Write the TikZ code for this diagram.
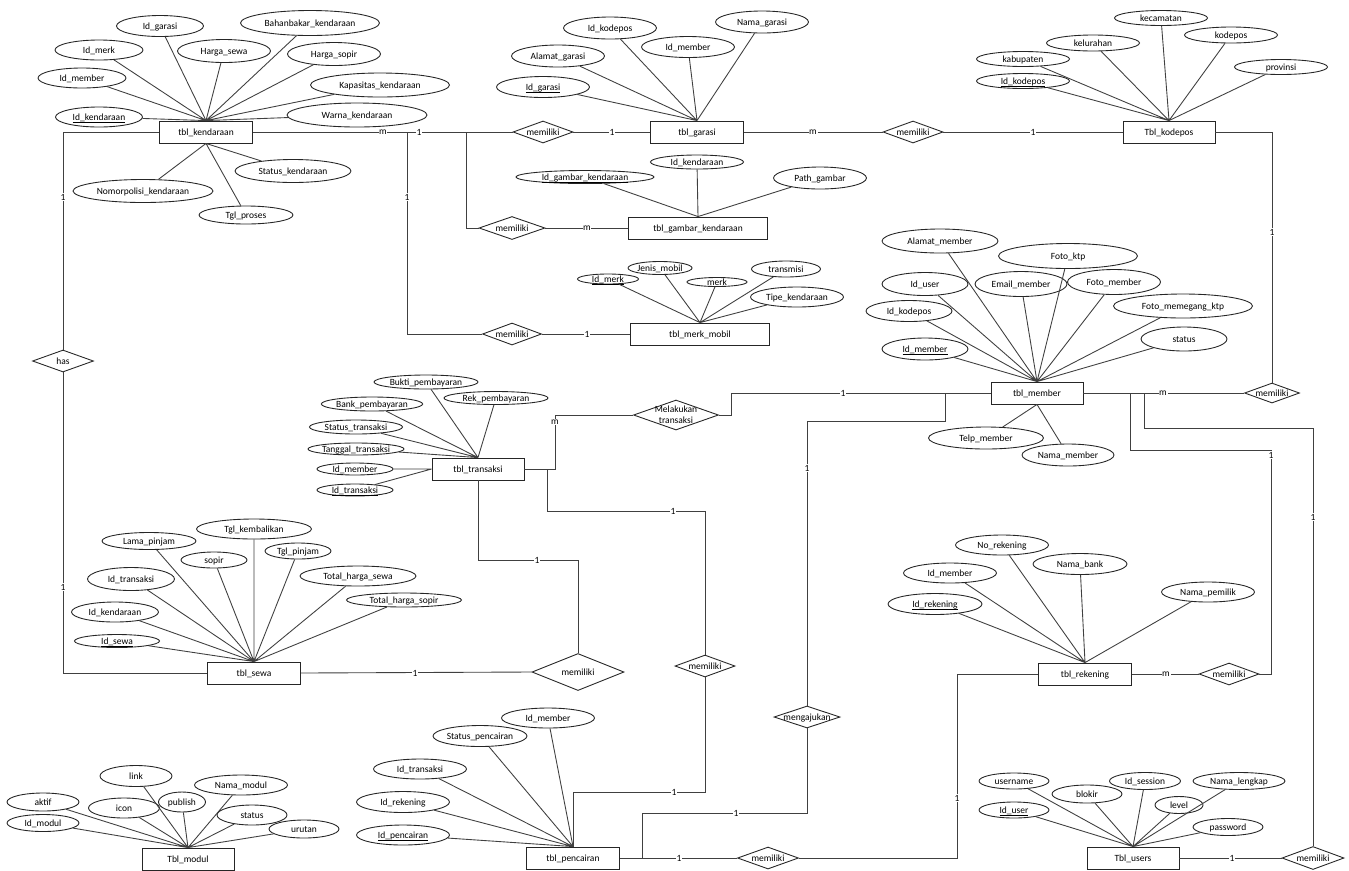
\documentclass[tikz,border=0pt]{standalone}
\usepackage{fontspec}
\setmainfont{Carlito}
\usetikzlibrary{shapes.geometric}
\newcommand{\erfont}{\fontsize{5.4pt}{6.4pt}\selectfont}
\newcommand{\pk}[1]{\underline{\smash{#1}}}

\begin{document}
\begin{tikzpicture}[x=0.02cm, y=-0.02cm,
    ent/.style={draw=black!85, line width=0.5pt, minimum width=1.86cm, minimum height=0.44cm,
                inner sep=0pt, text height=3.6pt, text depth=0pt, font=\erfont},
    att/.style={draw=black!85, line width=0.5pt, ellipse, minimum width=1.86cm, minimum height=0.42cm,
                inner sep=0pt, text height=3.6pt, text depth=0pt, font=\erfont},
    rel/.style={draw=black!85, line width=0.5pt, diamond, aspect=2.7, minimum width=1.2cm,
                minimum height=0.44cm, inner sep=0pt, text height=3.6pt, text depth=0pt, font=\erfont},
    card/.style={fill=white, inner sep=0.4pt, font=\erfont},
    ln/.style={black!75, line width=0.5pt}]
    \path[fill=white] (0,0) rectangle (1349,870);
    \useasboundingbox (0,0) rectangle (1349,870);

    \node[ent] (kend) at (206,132) {tbl\_kendaraan};
    \node[att, minimum width=1.74cm, minimum height=0.4cm] (k1) at (99,117) {\pk{Id\_kendaraan}};
    \node[att, minimum width=1.76cm, minimum height=0.4cm] (k2) at (82,78) {Id\_member};
    \node[att, minimum width=1.76cm, minimum height=0.4cm] (k3) at (99,50) {Id\_merk};
    \node[att, minimum width=1.74cm] (k4) at (160,26) {Id\_garasi};
    \node[att, minimum height=0.46cm] (k5) at (224,51) {Harga\_sewa};
    \node[att, minimum width=2.78cm, minimum height=0.5cm] (k6) at (310,23) {Bahanbakar\_kendaraan};
    \node[att, minimum height=0.46cm] (k7) at (334,54) {Harga\_sopir};
    \node[att, minimum width=2.78cm, minimum height=0.48cm] (k8) at (380,85) {Kapasitas\_kendaraan};
    \node[att, minimum width=2.8cm, minimum height=0.48cm] (k9) at (357,115) {Warna\_kendaraan};
    \node[att, minimum width=2.32cm, minimum height=0.46cm] (k10) at (293,171) {Status\_kendaraan};
    \node[att, minimum width=2.8cm, minimum height=0.46cm] (k11) at (143,191) {Nomorpolisi\_kendaraan};
    \node[att, minimum width=1.88cm, minimum height=0.36cm] (k12) at (246,215) {Tgl\_proses};

    \node[ent] (gar) at (697,132) {tbl\_garasi};
    \node[att] (g1) at (543,87) {\pk{Id\_garasi}};
    \node[att, minimum height=0.44cm] (g2) at (558,56) {Alamat\_garasi};
    \node[att, minimum height=0.44cm] (g3) at (610,28) {Id\_kodepos};
    \node[att] (g4) at (688,47) {Id\_member};
    \node[att, minimum height=0.44cm] (g5) at (762,22) {Nama\_garasi};

    \node[ent, minimum width=2.78cm] (gbk) at (698,228) {tbl\_gambar\_kendaraan};
    \node[att, minimum width=2.76cm, minimum height=0.26cm] (b1) at (585,177) {\pk{Id\_gambar\_kendaraan}};
    \node[att, minimum height=0.28cm] (b2) at (697,162) {Id\_kendaraan};
    \node[att, minimum height=0.44cm] (b3) at (820,178) {Path\_gambar};

    \node[ent, minimum width=2.78cm] (merk) at (700,334) {tbl\_merk\_mobil};
    \node[att, minimum width=1.22cm, minimum height=0.2cm] (m1) at (608,279) {\pk{Id\_merk}};
    \node[att, minimum width=1.22cm, minimum height=0.26cm] (m2) at (660,268) {Jenis\_mobil};
    \node[att, minimum width=1.2cm, minimum height=0.18cm] (m3) at (717,282) {merk};
    \node[att, minimum width=1.38cm, minimum height=0.32cm] (m4) at (786,269) {transmisi};
    \node[att, minimum height=0.4cm] (m5) at (797,297) {Tipe\_kendaraan};

    \node[ent, minimum width=1.84cm] (kdp) at (1169,132) {Tbl\_kodepos};
    \node[att, minimum height=0.3cm] (p1) at (1023,81) {\pk{Id\_kodepos}};
    \node[att, minimum height=0.3cm] (p2) at (1023,59) {kabupaten};
    \node[att, minimum height=0.32cm] (p3) at (1093,43) {kelurahan};
    \node[att, minimum height=0.3cm] (p4) at (1161,18) {kecamatan};
    \node[att, minimum height=0.32cm] (p5) at (1231,35) {kodepos};
    \node[att, minimum height=0.3cm] (p6) at (1281,67) {provinsi};

    \node[ent, minimum width=1.84cm] (mem) at (1037,393) {tbl\_member};
    \node[att, minimum width=1.72cm, minimum height=0.44cm] (r1) at (925,349) {\pk{Id\_member}};
    \node[att, minimum width=1.72cm] (r2) at (909,311) {Id\_kodepos};
    \node[att, minimum width=1.72cm, minimum height=0.46cm] (r3) at (925,284) {Id\_user};
    \node[att, minimum width=2.32cm, minimum height=0.48cm] (r4) at (940,241) {Alamat\_member};
    \node[att, minimum width=2.78cm, minimum height=0.5cm] (r6) at (1068,256) {Foto\_ktp};
    \node[att, minimum width=1.84cm, minimum height=0.5cm] (r5) at (1021,284) {Email\_member};
    \node[att, minimum height=0.5cm] (r7) at (1114,282) {Foto\_member};
    \node[att, minimum width=2.78cm, minimum height=0.48cm] (r8) at (1183,306) {Foto\_memegang\_ktp};
    \node[att, minimum width=1.72cm, minimum height=0.48cm] (r9) at (1184,339) {status};
    \node[att, minimum width=2.3cm, minimum height=0.44cm] (r10) at (986,438) {Telp\_member};
    \node[att, minimum width=1.84cm, minimum height=0.44cm] (r11) at (1068,455) {Nama\_member};

    \node[ent, minimum width=1.84cm] (trx) at (478,469) {tbl\_transaksi};
    \node[att, minimum width=1.52cm, minimum height=0.24cm] (t1) at (355,490) {\pk{Id\_transaksi}};
    \node[att, minimum width=1.52cm, minimum height=0.24cm] (t2) at (355,469) {Id\_member};
    \node[att, minimum height=0.24cm] (t3) at (356,449) {Tanggal\_transaksi};
    \node[att, minimum height=0.28cm] (t4) at (356,427) {Status\_transaksi};
    \node[att, minimum width=1.84cm, minimum height=0.28cm] (t5) at (372,404) {Bank\_pembayaran};
    \node[att, minimum width=2.08cm, minimum height=0.28cm] (t6) at (426,382) {Bukti\_pembayaran};
    \node[att, minimum width=2.08cm, minimum height=0.26cm] (t7) at (496,398) {Rek\_pembayaran};

    \node[ent] (sewa) at (254,673) {tbl\_sewa};
    \node[att, minimum width=1.7cm, minimum height=0.26cm] (s1) at (117,641) {\pk{Id\_sewa}};
    \node[att, minimum width=1.74cm, minimum height=0.4cm] (s2) at (115,612) {Id\_kendaraan};
    \node[att, minimum width=1.74cm, minimum height=0.46cm] (s3) at (131,579) {Id\_transaksi};
    \node[att, minimum width=1.88cm, minimum height=0.34cm] (s4) at (149,541) {Lama\_pinjam};
    \node[att, minimum width=1.32cm, minimum height=0.32cm] (s5) at (214,560) {sopir};
    \node[att, minimum width=2.3cm, minimum height=0.4cm] (s6) at (254,529) {Tgl\_kembalikan};
    \node[att, minimum width=1.32cm, minimum height=0.32cm] (s7) at (298,551) {Tgl\_pinjam};
    \node[att, minimum width=2.32cm, minimum height=0.4cm] (s8) at (358,576) {Total\_harga\_sewa};
    \node[att, minimum width=2.3cm, minimum height=0.28cm] (s9) at (404,600) {Total\_harga\_sopir};

    \node[ent] (pcr) at (573,858) {tbl\_pencairan};
    \node[att, minimum height=0.4cm] (c1) at (403,835) {\pk{Id\_pencairan}};
    \node[att] (c2) at (403,802) {Id\_rekening};
    \node[att, minimum height=0.4cm] (c3) at (420,769) {Id\_transaksi};
    \node[att] (c4) at (480,736) {Status\_pencairan};
    \node[att, minimum height=0.4cm] (c5) at (548,718) {Id\_member};

    \node[ent] (rek) at (1085,674) {tbl\_rekening};
    \node[att, minimum width=1.88cm] (e1) at (935,604) {\pk{Id\_rekening}};
    \node[att, minimum height=0.4cm] (e2) at (950,573) {Id\_member};
    \node[att, minimum height=0.4cm] (e3) at (1002,545) {No\_rekening};
    \node[att, minimum width=1.88cm] (e4) at (1080,564) {Nama\_bank};
    \node[att, minimum height=0.4cm] (e5) at (1208,592) {Nama\_pemilik};

    \node[ent, minimum width=1.84cm] (usr) at (1133,858) {Tbl\_users};
    \node[att, minimum width=1.4cm, minimum height=0.32cm] (u1) at (1014,810) {\pk{Id\_user}};
    \node[att, minimum width=1.4cm, minimum height=0.32cm] (u2) at (1014,781) {username};
    \node[att, minimum width=1.4cm, minimum height=0.36cm] (u3) at (1087,794) {blokir};
    \node[att, minimum width=1.42cm, minimum height=0.34cm] (u4) at (1145,781) {Id\_session};
    \node[att, minimum width=0.96cm, minimum height=0.34cm] (u5) at (1179,805) {level};
    \node[att, minimum width=1.84cm, minimum height=0.34cm] (u6) at (1239,781) {Nama\_lengkap};
    \node[att, minimum width=1.4cm, minimum height=0.34cm] (u7) at (1228,827) {password};

    \node[ent, minimum width=1.84cm] (mod) at (188,859) {Tbl\_modul};
    \node[att, minimum width=1.44cm, minimum height=0.34cm] (o1) at (43,823) {Id\_modul};
    \node[att, minimum width=1.44cm, minimum height=0.36cm] (o2) at (43,802) {aktif};
    \node[att, minimum width=1.42cm, minimum height=0.4cm] (o3) at (124,808) {icon};
    \node[att, minimum width=1.44cm, minimum height=0.42cm] (o4) at (136,776) {link};
    \node[att, minimum width=0.94cm, minimum height=0.4cm] (o5) at (182,802) {publish};
    \node[att, minimum height=0.4cm] (o6) at (241,785) {Nama\_modul};
    \node[att, minimum width=1.4cm, minimum height=0.4cm] (o7) at (252,815) {status};
    \node[att, minimum width=1.4cm, minimum height=0.36cm] (o8) at (304,829) {urutan};

    \node[rel] (memg) at (543,132) {memiliki};
    \node[rel, minimum width=1.32cm, minimum height=0.46cm] (memgb) at (512,228) {memiliki};
    \node[rel, minimum width=1.18cm] (memmm) at (512,334) {memiliki};
    \node[rel] (memk) at (913,132) {memiliki};
    \node[rel, minimum width=1.1cm, minimum height=0.4cm] (memkm) at (1272,393) {memiliki};
    \node[rel, aspect=2.8, minimum width=1.7cm, minimum height=0.6cm, align=center, inner sep=-2pt,
          text height=10pt] (melk) at (676,415) {Melakukan\\transaksi};
    \node[rel, minimum width=1.22cm] (has) at (63,361) {has};
    \node[rel, aspect=2.5, minimum width=1.84cm, minimum height=0.74cm] (mems) at (578,672) {memiliki};
    \node[rel] (memp) at (705,666) {memiliki};
    \node[rel, aspect=3, minimum width=1.24cm, minimum height=0.42cm] (aju) at (807,717) {mengajukan};
    \node[rel, minimum width=1.22cm] (memr) at (768,858) {memiliki};
    \node[rel] (memrm) at (1229,674) {memiliki};
    \node[rel, minimum width=1.24cm, minimum height=0.46cm] (memu) at (1313,858) {memiliki};

    \draw[ln] (kend.north) -- (k1) (kend.north) -- (k2) (kend.north) -- (k3) (kend.north) -- (k4)
      (kend.north) -- (k5) (kend.north) -- (k6) (kend.north) -- (k7) (kend.north) -- (k8)
      (kend.north) -- (k9) (kend.south) -- (k10) (kend.south) -- (k11) (kend.south) -- (k12);
    \draw[ln] (gar.north) -- (g1) (gar.north) -- (g2) (gar.north) -- (g3) (gar.north) -- (g4) (gar.north) -- (g5);
    \draw[ln] (gbk.north) -- (b1) (gbk.north) -- (b2) (gbk.north) -- (b3);
    \draw[ln] (merk.north) -- (m1) (merk.north) -- (m2) (merk.north) -- (m3) (merk.north) -- (m4) (merk.north) -- (m5);
    \draw[ln] (kdp.north) -- (p1) (kdp.north) -- (p2) (kdp.north) -- (p3) (kdp.north) -- (p4)
      (kdp.north) -- (p5) (kdp.north) -- (p6);
    \draw[ln] (mem.north) -- (r1) (mem.north) -- (r2) (mem.north) -- (r3) (mem.north) -- (r4)
      (mem.north) -- (r5) (mem.north) -- (r6) (mem.north) -- (r7) (mem.north) -- (r8)
      (mem.north) -- (r9) (mem.south) -- (r10) (mem.south) -- (r11);
    \draw[ln] (trx.west) -- (t1) (trx.west) -- (t2) (trx.north) -- (t3) (trx.north) -- (t4)
      (trx.north) -- (t5) (trx.north) -- (t6) (trx.north) -- (t7);
    \draw[ln] (sewa.north) -- (s1) (sewa.north) -- (s2) (sewa.north) -- (s3) (sewa.north) -- (s4)
      (sewa.north) -- (s5) (sewa.north) -- (s6) (sewa.north) -- (s7) (sewa.north) -- (s8) (sewa.north) -- (s9);
    \draw[ln] (pcr.north) -- (c1) (pcr.north) -- (c2) (pcr.north) -- (c3) (pcr.north) -- (c4) (pcr.north) -- (c5);
    \draw[ln] (rek.north) -- (e1) (rek.north) -- (e2) (rek.north) -- (e3) (rek.north) -- (e4) (rek.north) -- (e5);
    \draw[ln] (usr.north) -- (u1) (usr.north) -- (u2) (usr.north) -- (u3) (usr.north) -- (u4)
      (usr.north) -- (u5) (usr.north) -- (u6) (usr.north) -- (u7);
    \draw[ln] (mod.north) -- (o1) (mod.north) -- (o2) (mod.north) -- (o3) (mod.north) -- (o4)
      (mod.north) -- (o5) (mod.north) -- (o6) (mod.north) -- (o7) (mod.north) -- (o8);

    \coordinate (j1) at (466,132);
    \coordinate (j2) at (407,132);
    \coordinate (c3a) at (555,415);
    \coordinate (c4a) at (731,393);
    \coordinate (c5a) at (547,469);
    \coordinate (c6a) at (705,511);
    \coordinate (c7a) at (705,792);
    \coordinate (c8a) at (578,560);
    \coordinate (c9a) at (945,393);
    \coordinate (c10a) at (807,421);
    \coordinate (c11a) at (807,813);
    \coordinate (c12a) at (642,858);
    \coordinate (c13a) at (957,858);
    \coordinate (c14a) at (1130,393);
    \coordinate (c15a) at (1271,450);
    \coordinate (c16a) at (1144,393);
    \coordinate (c17a) at (1313,428);

    \draw[ln] (kend.east) -- (memg.west);
    \draw[ln] (memg.east) -- (gar.west);
    \draw[ln] (j1) |- (memgb.west);
    \draw[ln] (memgb.east) -- (gbk.west);
    \draw[ln] (j2) |- (memmm.west);
    \draw[ln] (memmm.east) -- (merk.west);
    \draw[ln] (gar.east) -- (memk.west);
    \draw[ln] (memk.east) -- (kdp.west);
    \draw[ln] (kdp.east) -| (memkm.north);
    \draw[ln] (mem.east) -- (memkm.west);
    \draw[ln] (kend.west) -| (has.north);
    \draw[ln] (sewa.west) -| (has.south);
    \draw[ln] (trx.east) -| (c3a) -- (melk.west);
    \draw[ln] (melk.east) -| (c4a) -- (mem.west);
    \draw[ln] (c5a) |- (c6a) -- (memp.north);
    \draw[ln] (memp.south) -- (c7a) -| (pcr.north);
    \draw[ln] (trx.south) |- (c8a) -- (mems.north);
    \draw[ln] (mems.west) -- (sewa.east);
    \draw[ln] (c9a) |- (c10a) -- (aju.north);
    \draw[ln] (aju.south) -- (c11a) -| (c12a);
    \draw[ln] (pcr.east) -- (memr.west);
    \draw[ln] (memr.east) -- (c13a) |- (rek.west);
    \draw[ln] (rek.east) -- (memrm.west);
    \draw[ln] (memrm.east) -| (c15a) -| (c14a);
    \draw[ln] (c16a) |- (c17a) -- (memu.north);
    \draw[ln] (memu.west) -- (usr.east);

    \node[card] (l1) at (383,132) {m};
    \node[card] (l2) at (419,132) {1};
    \node[card] (l3) at (612,132) {1};
    \node[card] (l4) at (587,228) {m};
    \node[card] (l5) at (407,197) {1};
    \node[card] (l6) at (587,334) {1};
    \node[card] (l7) at (813,132) {m};
    \node[card] (l8) at (1033,132) {1};
    \node[card] (l9) at (1272,232) {1};
    \node[card] (l10) at (1163,393) {m};
    \node[card] (l11) at (63,197) {1};
    \node[card] (l12) at (63,587) {1};
    \node[card] (l13) at (555,422) {m};
    \node[card] (l14) at (843,393) {1};
    \node[card] (l15) at (673,511) {1};
    \node[card] (l16) at (674,792) {1};
    \node[card] (l17) at (537,560) {1};
    \node[card] (l18) at (415,673) {1};
    \node[card] (l19) at (807,468) {1};
    \node[card] (l20) at (736,813) {1};
    \node[card] (l21) at (679,858) {1};
    \node[card] (l22) at (957,798) {1};
    \node[card] (l23) at (1166,674) {m};
    \node[card] (l24) at (1271,455) {1};
    \node[card] (l25) at (1313,517) {1};
    \node[card] (l26) at (1232,858) {1};
  \end{tikzpicture}
\end{document}
